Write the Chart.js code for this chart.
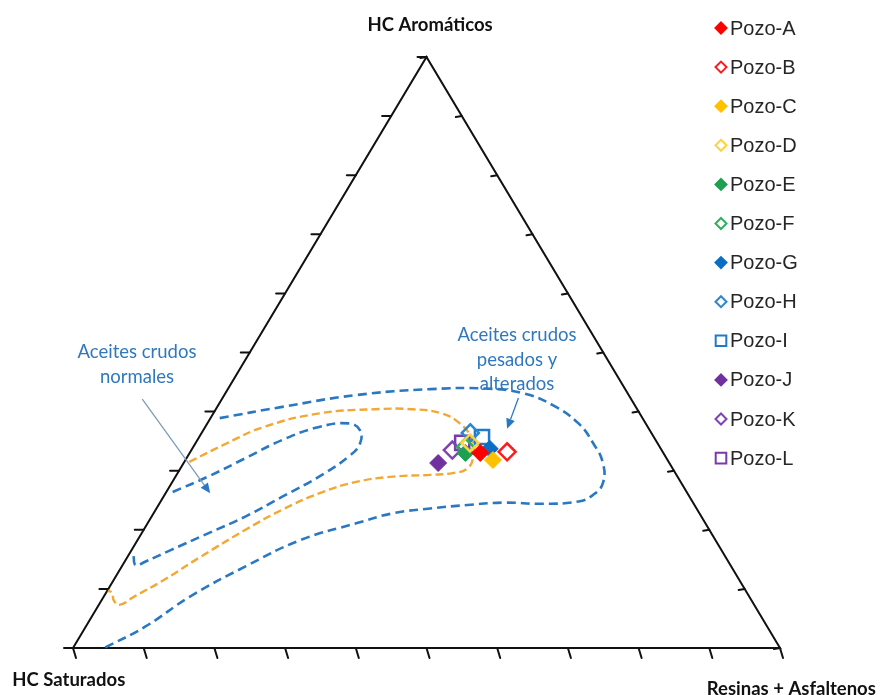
<!DOCTYPE html>
<html><head><meta charset="utf-8">
<script src="https://cdn.jsdelivr.net/npm/chart.js@4.4.0/dist/chart.umd.min.js"></script>
<style>html,body{margin:0;padding:0;background:#fff}canvas{display:block}</style>
</head><body>
<canvas id="c" width="882" height="695"></canvas>
<script>
// ---- Data (ternary %: Aromáticos, Resinas+Asfaltenos, Saturados) ----
const wells = ['Pozo-A','Pozo-B','Pozo-C','Pozo-D','Pozo-E','Pozo-F','Pozo-G','Pozo-H','Pozo-I','Pozo-J','Pozo-K','Pozo-L'];
const aromaticos = [33.0, 33.2, 31.8, 34.7, 33.0, 34.0, 33.7, 36.4, 35.7, 31.3, 33.5, 34.7];
const resinas    = [41.1, 44.8, 43.5, 38.8, 39.0, 38.5, 42.1, 38.0, 40.0, 36.0, 36.9, 37.7];
const saturados  = [25.9, 22.0, 24.7, 26.5, 28.0, 27.5, 24.2, 25.6, 24.3, 32.7, 29.6, 27.6];
const tickLabels = [0,10,20,30,40,50,60,70,80,90,100];

// contour lines (Aromáticos %, Resinas %)
const outerAro = [38.9,40.8,42.8,43.8,43.9,43.1,41.1,38.0,34.6,31.3,27.9,25.9,24.8,24.4,24.6,24.2,23.6,22.8,21.1,18.3,13.8,8.7,3.6,0];
const outerRes = [1.3,9.2,18.7,28.7,36.4,42.1,47.3,52.5,56.3,59.3,61.0,60.6,59.1,54.1,48.7,43.7,38.7,33.9,29.5,23.1,17.5,12.2,8.4,4.4];
const midAro = [31.5,34.6,37.4,39.7,40.4,40.4,39.7,38.0,35.5,32.4,30.4,29.6,29.3,29.0,28.1,26.2,23.4,20.0,15.4,11.5,8.7,7.3,8.1,9.3,9.7];
const midRes = [0.7,4.4,8.3,15.0,22.5,27.7,32.3,35.7,38.6,40.4,40.6,38.9,35.9,30.8,26.0,21.8,17.9,14.4,10.3,7.1,4.3,2.9,1.7,0.9,0.1];
const innerAro = [26.4,29.0,32.1,35.2,37.4,38.0,36.9,34.6,32.4,29.0,25.6,22.2,19.4,16.6,14.6,14.0,15.4,16.3];
const innerRes = [0.9,4.6,8.3,12.0,16.1,20.0,22.1,23.3,22.8,20.3,16.8,13.2,9.4,5.6,2.9,1.9,0.9,0.7];

// ---- styles ----
const wellStyle = [
  {c:'#ff0000', fill:true,  shape:'rectRot'},
  {c:'#ff1a1a', fill:false, shape:'rectRot'},
  {c:'#ffc000', fill:true,  shape:'rectRot'},
  {c:'#ffd23f', fill:false, shape:'rectRot'},
  {c:'#1fa050', fill:true,  shape:'rectRot'},
  {c:'#2fb060', fill:false, shape:'rectRot'},
  {c:'#0a6fc2', fill:true,  shape:'rectRot'},
  {c:'#2a86d0', fill:false, shape:'rectRot'},
  {c:'#1f7acc', fill:false, shape:'rect'},
  {c:'#7030a0', fill:true,  shape:'rectRot'},
  {c:'#8040b8', fill:false, shape:'rectRot'},
  {c:'#7a3aa8', fill:false, shape:'rect'}
];
const BLUE = '#2a78c2', ORANGE = '#f2a833', TXT = '#2f78c0';

function tern(a, r){ return {x: r + a/2, y: a}; }

const datasets = [];
wells.forEach((w,i)=>{
  const s = wellStyle[i];
  datasets.push({
    label: w, type:'scatter', order: 1,
    data: [tern(aromaticos[i], resinas[i])],
    pointStyle: s.shape,
    pointRadius: s.shape==='rect' ? 10 : 8.5,
    backgroundColor: s.fill ? s.c : 'rgba(255,255,255,0)',
    borderColor: s.c,
    borderWidth: s.fill ? 1 : 2.5,
    clip: false
  });
});
function contour(aro, res, color, dash, width){
  return {label:'_c', type:'scatter', order: 5, showLine:true, fill:false,
    data: aro.map((a,i)=>tern(a,res[i])), borderColor:color, borderWidth:width,
    borderDash:dash, pointRadius:0, tension:0.45, clip:false};
}
datasets.push(contour(outerAro, outerRes, BLUE, [9,5], 2.6));
datasets.push(contour(midAro, midRes, ORANGE, [8,4], 2.4));
datasets.push(contour(innerAro, innerRes, BLUE, [9,5], 2.6));
datasets.push({label:'_t', type:'scatter', order: 10, showLine:true,
  data:[tern(0,0), tern(0,100), tern(100,0), tern(0,0)],
  borderColor:'#111', borderWidth:2, pointRadius:0, tension:0, clip:false});

// annotation geometry in data units (chart x/y)
const labelsTxt = [
  {t:'HC Aromáticos', x:50.5, y:105.4},
  {t:'HC Saturados', x:-0.6, y:-5.4},
  {t:'Resinas + Asfaltenos', x:101.6, y:-6.9}
];
const noteTxt = [
  {t:'Aceites crudos', x:9.05, y:50.1},
  {t:'normales', x:9.05, y:45.8},
  {t:'Aceites crudos', x:62.8, y:53.0},
  {t:'pesados y', x:62.8, y:48.7},
  {t:'alterados', x:62.8, y:44.6}
];
const arrows = [
  {x1:9.8, y1:42.1, x2:19.4, y2:26.2, line:'#7d9cbc'},
  {x1:63.0, y1:42.3, x2:61.4, y2:37.1, line:BLUE}
];

function drawMarker(ctx, shape, x, y, r, color, fill, lw){
  ctx.save();
  ctx.beginPath();
  if(shape==='rect'){ const h=r*Math.SQRT1_2; ctx.rect(x-h,y-h,2*h,2*h); }
  else { ctx.moveTo(x,y-r); ctx.lineTo(x+r,y); ctx.lineTo(x,y+r); ctx.lineTo(x-r,y); ctx.closePath(); }
  ctx.lineWidth = lw; ctx.strokeStyle = color;
  if(fill){ ctx.fillStyle=color; ctx.fill(); } else { ctx.fillStyle='#fff'; ctx.fill(); }
  ctx.stroke();
  ctx.restore();
}

const decor = {
  id:'decor',
  beforeDatasetsDraw(chart){
    const ctx = chart.ctx, xs = chart.scales.x, ys = chart.scales.y;
    const P = (a,r)=>{const p=tern(a,r); return [xs.getPixelForValue(p.x), ys.getPixelForValue(p.y)];};
    ctx.save(); ctx.strokeStyle='#111'; ctx.lineWidth=2; ctx.lineCap='round';
    tickLabels.forEach(v=>{
      let [x,y] = P(0, v);
      ctx.beginPath(); ctx.moveTo(x,y); ctx.lineTo(x+3,y+10); ctx.stroke();
      [x,y] = P(v, 0);
      ctx.beginPath(); ctx.moveTo(x,y); ctx.lineTo(x-9,y); ctx.stroke();
      [x,y] = P(v, 100-v);
      ctx.beginPath(); ctx.moveTo(x,y); ctx.lineTo(x-6,y+1); ctx.stroke();
    });
    ctx.restore();
  },
  afterDraw(chart){
    const ctx = chart.ctx, xs = chart.scales.x, ys = chart.scales.y;
    const X = v=>xs.getPixelForValue(v), Y = v=>ys.getPixelForValue(v);
    ctx.save();
    ctx.textAlign='center'; ctx.textBaseline='middle';
    ctx.fillStyle='#111'; ctx.font='bold 18.5px Lato, "Open Sans", sans-serif';
    labelsTxt.forEach(l=>ctx.fillText(l.t, X(l.x), Y(l.y)));
    ctx.fillStyle=TXT; ctx.font='18.5px Lato, "Open Sans", sans-serif';
    noteTxt.forEach(l=>ctx.fillText(l.t, X(l.x), Y(l.y)));
    arrows.forEach(a=>{
      const x1=X(a.x1), y1=Y(a.y1), x2=X(a.x2), y2=Y(a.y2);
      const ang=Math.atan2(y2-y1,x2-x1), L=10, W=4.5;
      const bx=x2-L*Math.cos(ang), by=y2-L*Math.sin(ang);
      ctx.strokeStyle=a.line; ctx.lineWidth=1.3;
      ctx.beginPath(); ctx.moveTo(x1,y1); ctx.lineTo(bx,by); ctx.stroke();
      ctx.fillStyle=BLUE; ctx.beginPath(); ctx.moveTo(x2,y2);
      ctx.lineTo(bx+W*Math.sin(ang), by-W*Math.cos(ang));
      ctx.lineTo(bx-W*Math.sin(ang), by+W*Math.cos(ang));
      ctx.closePath(); ctx.fill();
    });
    // legend
    ctx.textAlign='left'; ctx.font='20px "Liberation Sans", Arial, sans-serif'; ctx.fillStyle='#262626';
    wells.forEach((w,i)=>{
      const s=wellStyle[i], y=28+i*39.1;
      drawMarker(ctx, s.shape, 721, y, s.shape==='rect'?7.5:5.5, s.c, s.fill, 2);
      ctx.fillText(w, 730, y+1);
    });
    ctx.restore();
  }
};

new Chart(document.getElementById('c'), {
  type:'scatter',
  data:{datasets},
  options:{
    responsive:false, devicePixelRatio:1, animation:false,
    layout:{padding:{left:73, right:102, top:57, bottom:47}},
    scales:{
      x:{type:'linear', min:0, max:100, display:false},
      y:{type:'linear', min:0, max:100, display:false}
    },
    plugins:{legend:{display:false}, tooltip:{enabled:false}}
  },
  plugins:[decor]
});
</script>
</body></html>
